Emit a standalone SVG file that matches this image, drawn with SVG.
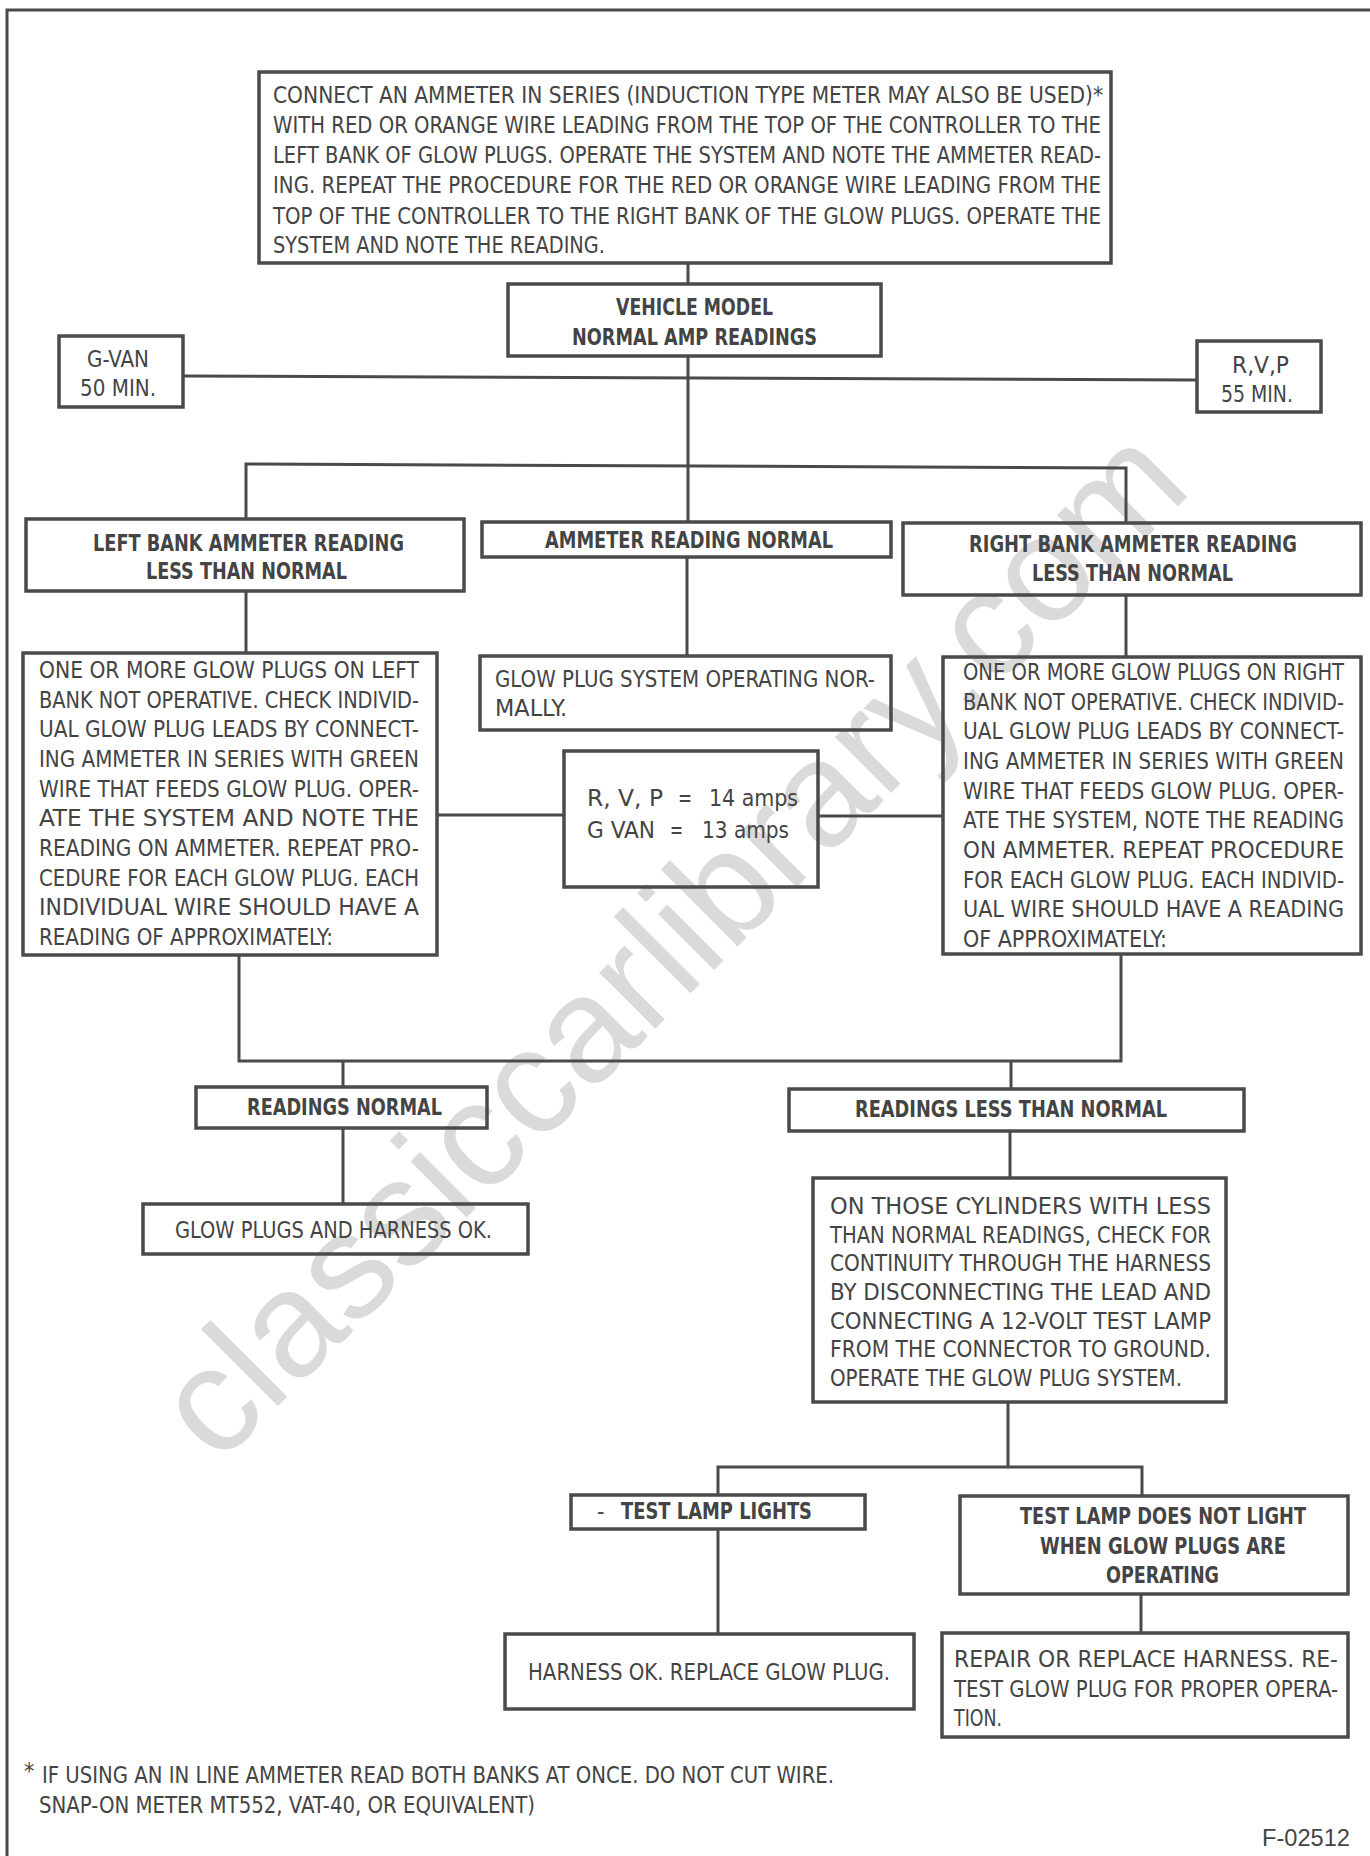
<svg xmlns="http://www.w3.org/2000/svg" width="1370" height="1856" viewBox="0 0 1370 1856">
<style>
.box{fill:none;stroke:#4a4a4a;stroke-width:3.5}
.ln{fill:none;stroke:#4a4a4a;stroke-width:3}
.t{font-family:"Liberation Sans Narrow","DejaVu Sans Condensed","Liberation Sans",Arial,sans-serif;font-size:23px;fill:#444}
.b{font-weight:bold}
.wm{font-family:"Liberation Sans",Arial,sans-serif;font-size:150px;fill:#dadada}
</style>
<rect x="0" y="0" width="1370" height="1856" fill="#fff"/>
<text class="wm" x="706" y="978" text-anchor="middle" transform="rotate(-45 706 978)">classiccarlibrary.com</text>
<g id="frame"><path class="ln" d="M7,1856 V10 H1370" stroke-width="2.5"/></g>

<g id="connectors">
<path class="ln" d="M688,263 V284"/>
<path class="ln" d="M688,356 V522"/>
<path class="ln" d="M183,376 L1197,380"/>
<path class="ln" d="M246,519 V464 L1126,468 V523"/>
<path class="ln" d="M246,591 V653"/>
<path class="ln" d="M687,557 V656"/>
<path class="ln" d="M1126,595 V657"/>
<path class="ln" d="M437,815 H564"/>
<path class="ln" d="M818,816 H943"/>
<path class="ln" d="M239,955 V1061 H1121 V954"/>
<path class="ln" d="M343,1061 V1087"/>
<path class="ln" d="M1011,1061 V1089"/>
<path class="ln" d="M343,1128 V1204"/>
<path class="ln" d="M1010,1131 V1178"/>
<path class="ln" d="M1008,1402 V1467"/>
<path class="ln" d="M718,1495 V1467 H1142 V1496"/>
<path class="ln" d="M718,1529 V1634"/>
<path class="ln" d="M1141,1594 V1633"/>
</g>

<g id="n-connect">
<rect class="box" x="259" y="72" width="852" height="191"/>
<text class="t" x="273" y="103" textLength="830" lengthAdjust="spacingAndGlyphs">CONNECT AN AMMETER IN SERIES (INDUCTION TYPE METER MAY ALSO BE USED)*</text>
<text class="t" x="273" y="133" textLength="828" lengthAdjust="spacingAndGlyphs">WITH RED OR ORANGE WIRE LEADING FROM THE TOP OF THE CONTROLLER TO THE</text>
<text class="t" x="273" y="163" textLength="828" lengthAdjust="spacingAndGlyphs">LEFT BANK OF GLOW PLUGS. OPERATE THE SYSTEM AND NOTE THE AMMETER READ-</text>
<text class="t" x="273" y="193" textLength="828" lengthAdjust="spacingAndGlyphs">ING. REPEAT THE PROCEDURE FOR THE RED OR ORANGE WIRE LEADING FROM THE</text>
<text class="t" x="273" y="224" textLength="828" lengthAdjust="spacingAndGlyphs">TOP OF THE CONTROLLER TO THE RIGHT BANK OF THE GLOW PLUGS. OPERATE THE</text>
<text class="t" x="273" y="253" textLength="332" lengthAdjust="spacingAndGlyphs">SYSTEM AND NOTE THE READING.</text>
</g>

<g id="n-vehicle">
<rect class="box" x="508" y="284" width="373" height="72"/>
<text class="t b" x="616" y="315" textLength="157" lengthAdjust="spacingAndGlyphs">VEHICLE MODEL</text>
<text class="t b" x="572" y="345" textLength="245" lengthAdjust="spacingAndGlyphs">NORMAL AMP READINGS</text>
</g>

<g id="n-gvan">
<rect class="box" x="59" y="336" width="124" height="71"/>
<text class="t" x="87" y="367" textLength="62" lengthAdjust="spacingAndGlyphs">G-VAN</text>
<text class="t" x="80" y="396" textLength="76" lengthAdjust="spacingAndGlyphs">50 MIN.</text>
</g>

<g id="n-rvp">
<rect class="box" x="1197" y="341" width="124" height="71"/>
<text class="t" x="1232" y="373" textLength="57" lengthAdjust="spacingAndGlyphs">R,V,P</text>
<text class="t" x="1221" y="402" textLength="72" lengthAdjust="spacingAndGlyphs">55 MIN.</text>
</g>

<g id="n-leftbank">
<rect class="box" x="26" y="519" width="438" height="72"/>
<text class="t b" x="93" y="551" textLength="311" lengthAdjust="spacingAndGlyphs">LEFT BANK AMMETER READING</text>
<text class="t b" x="146" y="579" textLength="201" lengthAdjust="spacingAndGlyphs">LESS THAN NORMAL</text>
</g>

<g id="n-normal">
<rect class="box" x="482" y="522" width="409" height="35"/>
<text class="t b" x="545" y="548" textLength="288" lengthAdjust="spacingAndGlyphs">AMMETER READING NORMAL</text>
</g>

<g id="n-rightbank">
<rect class="box" x="903" y="523" width="458" height="72"/>
<text class="t b" x="969" y="552" textLength="328" lengthAdjust="spacingAndGlyphs">RIGHT BANK AMMETER READING</text>
<text class="t b" x="1032" y="581" textLength="201" lengthAdjust="spacingAndGlyphs">LESS THAN NORMAL</text>
</g>

<g id="n-leftdetail">
<rect class="box" x="23" y="653" width="414" height="302"/>
<text class="t" x="39" y="678" textLength="380" lengthAdjust="spacingAndGlyphs">ONE OR MORE GLOW PLUGS ON LEFT</text>
<text class="t" x="39" y="708" textLength="380" lengthAdjust="spacingAndGlyphs">BANK NOT OPERATIVE. CHECK INDIVID-</text>
<text class="t" x="39" y="737" textLength="380" lengthAdjust="spacingAndGlyphs">UAL GLOW PLUG LEADS BY CONNECT-</text>
<text class="t" x="39" y="767" textLength="380" lengthAdjust="spacingAndGlyphs">ING AMMETER IN SERIES WITH GREEN</text>
<text class="t" x="39" y="797" textLength="380" lengthAdjust="spacingAndGlyphs">WIRE THAT FEEDS GLOW PLUG. OPER-</text>
<text class="t" x="39" y="826" textLength="380" lengthAdjust="spacingAndGlyphs">ATE THE SYSTEM AND NOTE THE</text>
<text class="t" x="39" y="856" textLength="380" lengthAdjust="spacingAndGlyphs">READING ON AMMETER. REPEAT PRO-</text>
<text class="t" x="39" y="886" textLength="380" lengthAdjust="spacingAndGlyphs">CEDURE FOR EACH GLOW PLUG. EACH</text>
<text class="t" x="39" y="915" textLength="380" lengthAdjust="spacingAndGlyphs">INDIVIDUAL WIRE SHOULD HAVE A</text>
<text class="t" x="39" y="945" textLength="294" lengthAdjust="spacingAndGlyphs">READING OF APPROXIMATELY:</text>
</g>

<g id="n-opnormal">
<rect class="box" x="480" y="656" width="411" height="74"/>
<text class="t" x="495" y="687" textLength="380" lengthAdjust="spacingAndGlyphs">GLOW PLUG SYSTEM OPERATING NOR-</text>
<text class="t" x="495" y="716" textLength="72" lengthAdjust="spacingAndGlyphs">MALLY.</text>
</g>

<g id="n-amps">
<rect class="box" x="564" y="751" width="254" height="136"/>
<text class="t" x="587" y="806" textLength="76" lengthAdjust="spacingAndGlyphs">R, V, P</text>
<text class="t" x="678" y="806" textLength="14" lengthAdjust="spacingAndGlyphs">=</text>
<text class="t" x="709" y="806" textLength="89" lengthAdjust="spacingAndGlyphs">14 amps</text>
<text class="t" x="587" y="838" textLength="68" lengthAdjust="spacingAndGlyphs">G VAN</text>
<text class="t" x="670" y="838" textLength="13" lengthAdjust="spacingAndGlyphs">=</text>
<text class="t" x="702" y="838" textLength="87" lengthAdjust="spacingAndGlyphs">13 amps</text>
</g>

<g id="n-rightdetail">
<rect class="box" x="943" y="657" width="418" height="297"/>
<text class="t" x="963" y="680" textLength="381" lengthAdjust="spacingAndGlyphs">ONE OR MORE GLOW PLUGS ON RIGHT</text>
<text class="t" x="963" y="710" textLength="381" lengthAdjust="spacingAndGlyphs">BANK NOT OPERATIVE. CHECK INDIVID-</text>
<text class="t" x="963" y="739" textLength="381" lengthAdjust="spacingAndGlyphs">UAL GLOW PLUG LEADS BY CONNECT-</text>
<text class="t" x="963" y="769" textLength="381" lengthAdjust="spacingAndGlyphs">ING AMMETER IN SERIES WITH GREEN</text>
<text class="t" x="963" y="799" textLength="381" lengthAdjust="spacingAndGlyphs">WIRE THAT FEEDS GLOW PLUG. OPER-</text>
<text class="t" x="963" y="828" textLength="381" lengthAdjust="spacingAndGlyphs">ATE THE SYSTEM, NOTE THE READING</text>
<text class="t" x="963" y="858" textLength="381" lengthAdjust="spacingAndGlyphs">ON AMMETER. REPEAT PROCEDURE</text>
<text class="t" x="963" y="888" textLength="381" lengthAdjust="spacingAndGlyphs">FOR EACH GLOW PLUG. EACH INDIVID-</text>
<text class="t" x="963" y="917" textLength="381" lengthAdjust="spacingAndGlyphs">UAL WIRE SHOULD HAVE A READING</text>
<text class="t" x="963" y="947" textLength="204" lengthAdjust="spacingAndGlyphs">OF APPROXIMATELY:</text>
</g>

<g id="n-readnormal">
<rect class="box" x="196" y="1087" width="291" height="41"/>
<text class="t b" x="247" y="1115" textLength="195" lengthAdjust="spacingAndGlyphs">READINGS NORMAL</text>
</g>

<g id="n-readless">
<rect class="box" x="789" y="1089" width="455" height="42"/>
<text class="t b" x="855" y="1117" textLength="312" lengthAdjust="spacingAndGlyphs">READINGS LESS THAN NORMAL</text>
</g>

<g id="n-harnessok">
<rect class="box" x="143" y="1204" width="385" height="50"/>
<text class="t" x="175" y="1238" textLength="317" lengthAdjust="spacingAndGlyphs">GLOW PLUGS AND HARNESS OK.</text>
</g>

<g id="n-cylinders">
<rect class="box" x="813" y="1178" width="413" height="224"/>
<text class="t" x="830" y="1214" textLength="381" lengthAdjust="spacingAndGlyphs">ON THOSE CYLINDERS WITH LESS</text>
<text class="t" x="830" y="1243" textLength="381" lengthAdjust="spacingAndGlyphs">THAN NORMAL READINGS, CHECK FOR</text>
<text class="t" x="830" y="1271" textLength="381" lengthAdjust="spacingAndGlyphs">CONTINUITY THROUGH THE HARNESS</text>
<text class="t" x="830" y="1300" textLength="381" lengthAdjust="spacingAndGlyphs">BY DISCONNECTING THE LEAD AND</text>
<text class="t" x="830" y="1329" textLength="381" lengthAdjust="spacingAndGlyphs">CONNECTING A 12-VOLT TEST LAMP</text>
<text class="t" x="830" y="1357" textLength="381" lengthAdjust="spacingAndGlyphs">FROM THE CONNECTOR TO GROUND.</text>
<text class="t" x="830" y="1386" textLength="352" lengthAdjust="spacingAndGlyphs">OPERATE THE GLOW PLUG SYSTEM.</text>
</g>

<g id="n-lamplights">
<rect class="box" x="571" y="1495" width="294" height="34"/>
<text class="t" x="597" y="1519">-</text>
<text class="t b" x="621" y="1519" textLength="191" lengthAdjust="spacingAndGlyphs">TEST LAMP LIGHTS</text>
</g>

<g id="n-lampnot">
<rect class="box" x="960" y="1496" width="388" height="98"/>
<text class="t b" x="1020" y="1524" textLength="286" lengthAdjust="spacingAndGlyphs">TEST LAMP DOES NOT LIGHT</text>
<text class="t b" x="1040" y="1554" textLength="246" lengthAdjust="spacingAndGlyphs">WHEN GLOW PLUGS ARE</text>
<text class="t b" x="1106" y="1583" textLength="113" lengthAdjust="spacingAndGlyphs">OPERATING</text>
</g>

<g id="n-replaceplug">
<rect class="box" x="505" y="1634" width="409" height="75"/>
<text class="t" x="528" y="1680" textLength="362" lengthAdjust="spacingAndGlyphs">HARNESS OK. REPLACE GLOW PLUG.</text>
</g>

<g id="n-repair">
<rect class="box" x="942" y="1633" width="406" height="104"/>
<text class="t" x="954" y="1667" textLength="384" lengthAdjust="spacingAndGlyphs">REPAIR OR REPLACE HARNESS. RE-</text>
<text class="t" x="954" y="1697" textLength="384" lengthAdjust="spacingAndGlyphs">TEST GLOW PLUG FOR PROPER OPERA-</text>
<text class="t" x="954" y="1726" textLength="48" lengthAdjust="spacingAndGlyphs">TION.</text>
</g>

<g id="footnote">
<text class="t" x="24" y="1779" font-size="16">*</text>
<text class="t" x="42" y="1783" textLength="792" lengthAdjust="spacingAndGlyphs">IF USING AN IN LINE AMMETER READ BOTH BANKS AT ONCE. DO NOT CUT WIRE.</text>
<text class="t" x="39" y="1813" textLength="496" lengthAdjust="spacingAndGlyphs">SNAP-ON METER MT552, VAT-40, OR EQUIVALENT)</text>
<text x="1262" y="1846" textLength="88" lengthAdjust="spacingAndGlyphs" style="font-family:'Liberation Sans',Arial,sans-serif;font-size:24px;fill:#444">F-02512</text>
</g>
</svg>
